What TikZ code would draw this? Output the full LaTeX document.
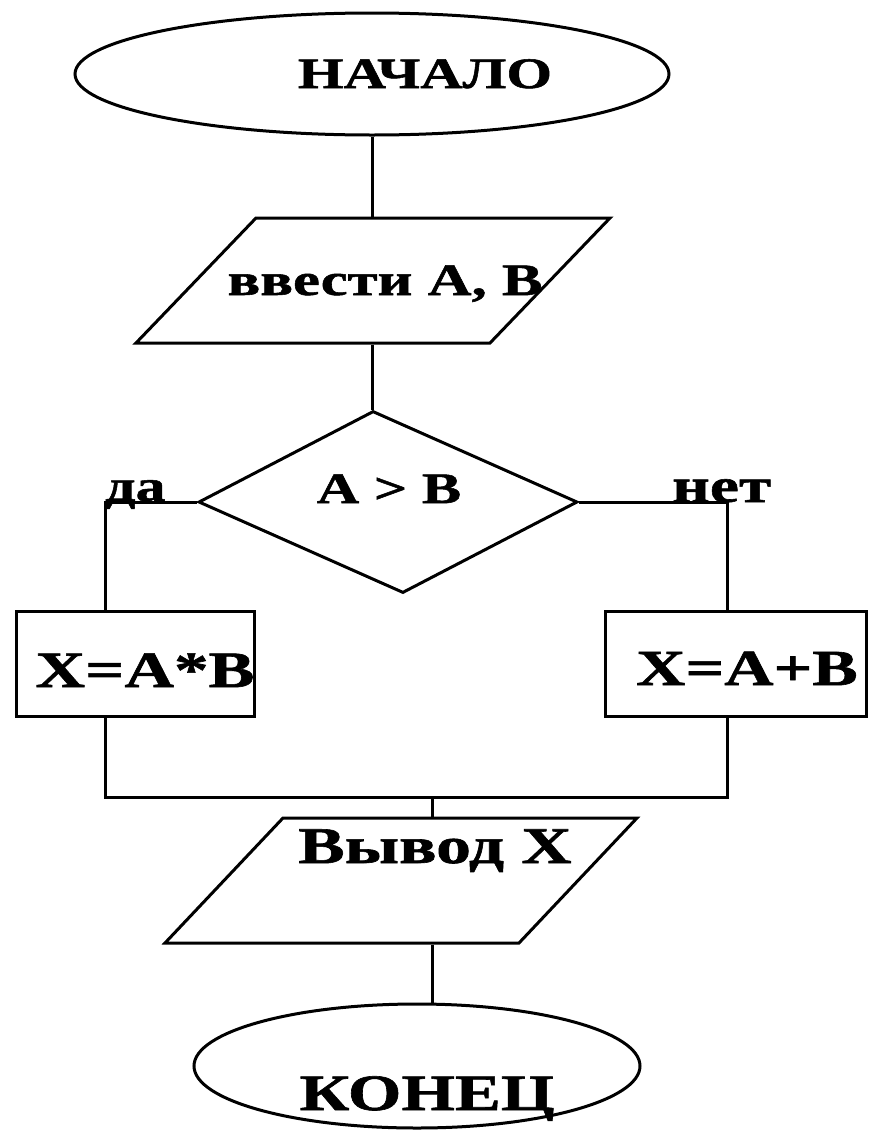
\documentclass[tikz,border=0pt]{standalone}
\usepackage{fontspec}
\newfontfamily\chartfont[FakeStretch=1.35, BoldFeatures={FakeBold=1.2}]{Liberation Serif}
\usetikzlibrary{shapes.geometric}

\tikzset{
  flowline/.style={line width=3pt},
  terminal/.style={draw, ellipse, line width=3pt, inner sep=0pt},
  iobox/.style={draw, line width=3pt, inner sep=0pt, minimum width=354pt, minimum height=125pt, transform shape},
  decision/.style={draw, diamond, line width=3pt, inner sep=0pt, transform shape},
  procbox/.style={draw, rectangle, line width=3pt, inner sep=0pt, minimum height=105pt},
  chtext/.style={font=\chartfont\bfseries\fontsize{#1}{#1}\selectfont, inner sep=0pt, anchor=base}
}

\begin{document}
\begin{tikzpicture}[x=1pt, y=-1pt]
  \useasboundingbox (0,0) rectangle (869,1130);
  % shapes
  \node[terminal, minimum width=594pt, minimum height=122pt] (start) at (372,74) {};
  \node[iobox, xslant=0.96] (inp) at (373,280.5) {};
  \node[decision, minimum width=379pt, minimum height=182pt, xslant=-0.165] (dec) at (388,502) {};
  \node[procbox, minimum width=238pt] (yes) at (135,663.5) {};
  \node[procbox, minimum width=261pt] (no) at (735.5,663.5) {};
  \node[iobox, xslant=0.944] (outp) at (401,880.5) {};
  \node[terminal, minimum width=446pt, minimum height=124pt] (fin) at (417,1066) {};
  % texts
  \node[chtext=43.5] (startlbl) at (425,88) {НАЧАЛО};
  \node[chtext=45] (inplbl) at (385,295) {ввести A, B};
  \node[chtext=43.5] (declbl) at (389,503) {A > B};
  \node[chtext=44.5, anchor=base west] (dalbl) at (105,501) {да};
  \node[chtext=48.5, anchor=base west] (netlbl) at (672,502) {нет};
  \node[chtext=51] (yeslbl) at (145,687) {X=A*B};
  \node[chtext=50.5] (nolbl) at (747,685) {X=A+B};
  \node[chtext=51.5] (outlbl) at (435,863) {Вывод X};
  \node[chtext=51] (finlbl) at (427,1110) {КОНЕЦ};
  % connectors
  \coordinate (lft) at (105,797);
  \coordinate (rgt) at (727,797);
  \coordinate (join) at (432,797);
  \draw[flowline] (start.south) -- (start.south |- inp.north);
  \draw[flowline] (dec.north |- inp.south) -- (dec.north);
  \draw[flowline] (dec.west) -| (lft |- yes.north);
  \draw[flowline] (dec.east) -| (rgt |- no.north);
  \draw[flowline] (lft |- yes.south) -- (lft) -- (rgt) -- (rgt |- no.south);
  \draw[flowline] (join) -- (join |- outp.north);
  \draw[flowline] (join |- outp.south) -- (join |- fin.north);
\end{tikzpicture}
\end{document}
